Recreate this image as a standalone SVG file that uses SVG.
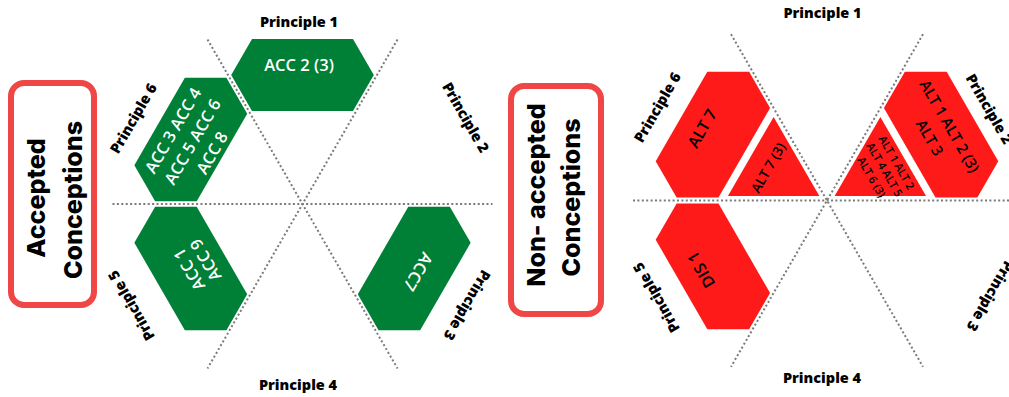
<svg xmlns="http://www.w3.org/2000/svg" width="1009" height="397" viewBox="0 0 1009 397">
<style>
.green{fill:#008037}
.red{fill:#ff1a1a}
.box{fill:#fff;stroke:#ef4646;stroke-width:6}
.title{font-family:Inter,"Liberation Sans",sans-serif;font-weight:800;font-size:25px;fill:#000;text-anchor:middle}
.pr{font-family:"Open Sans","Liberation Sans",sans-serif;font-weight:800;font-size:14.5px;fill:#000;text-anchor:middle}
.acc{font-family:"Open Sans","Liberation Sans",sans-serif;font-weight:600;font-size:16.5px;fill:#fff;text-anchor:middle}
.alt{font-family:"Open Sans","Liberation Sans",sans-serif;font-weight:600;font-size:16px;fill:#000;text-anchor:middle}
.guide{fill:none;stroke:#7a7a7a;stroke-width:2;stroke-dasharray:2 2.4}
</style>
<defs>
<polygon id="hexL" points="-50.5,-165 50.5,-165 71.3,-129 50.5,-93 -50.5,-93 -71.3,-129"/>
<polygon id="hexR" points="-51.6,-168 51.6,-168 72.5,-131.75 51.6,-95.5 -51.6,-95.5 -72.5,-131.75"/>
<polygon id="triR" points="-45.7,-88 45.7,-88 0,-8.8"/>
</defs>

<g id="accepted-label">
<rect class="box" x="11" y="83" width="83" height="222" rx="13"/>
<text class="title" transform="translate(45,198) rotate(-90)">Accepted</text>
<text class="title" transform="translate(82,200) rotate(-90)">Conceptions</text>
</g>

<g id="nonaccepted-label">
<rect class="box" x="511" y="86" width="90" height="228" rx="13"/>
<text class="title" transform="translate(545,195) rotate(-90)">Non- accepted</text>
<text class="title" transform="translate(580,197.5) rotate(-90)">Conceptions</text>
</g>

<g transform="translate(302.5,204)">
<g id="acc2">
<use href="#hexL" class="green"/>
<text class="acc" x="-3.5" y="-133">ACC 2 (3)</text>
</g>
<g id="acc3" transform="rotate(-60)">
<use href="#hexL" class="green"/>
<text class="acc" x="-1" y="-143">ACC 3 ACC 4</text>
<text class="acc" x="-1" y="-120.5">ACC 5 ACC 6</text>
<text class="acc" x="-1" y="-98">ACC 8</text>
</g>
<g id="acc1" transform="rotate(-120)">
<use href="#hexL" class="green"/>
<text class="acc" x="0" y="-125">ACC 1</text>
<text class="acc" x="0" y="-106">ACC 9</text>
</g>
<g id="acc7" transform="rotate(120)">
<use href="#hexL" class="green"/>
<text class="acc" x="1" y="-128">ACC7</text>
</g>
</g>

<g transform="translate(827,200.5)">
<g id="alt7" transform="rotate(-60)">
<use href="#hexR" class="red"/>
<text class="alt" x="0" y="-138.5">ALT 7</text>
</g>
<g id="alt7-3" transform="rotate(-60)">
<use href="#triR" class="red"/>
<text class="alt" x="-1" y="-62.5" style="font-size:13.5px">ALT 7 (3)</text>
</g>
<g id="alt123" transform="rotate(60)">
<use href="#hexR" class="red"/>
<text class="alt" x="-3" y="-138" style="font-size:15px">ALT 1 ALT 2 (3)</text>
<text class="alt" x="-3" y="-115" style="font-size:15px">ALT 3</text>
</g>
<g id="alt12456" transform="rotate(60)">
<use href="#triR" class="red"/>
<text class="alt" x="2" y="-75.3" style="font-size:11px">ALT 1 ALT 2</text>
<text class="alt" x="2" y="-61.3" style="font-size:11px">ALT 4 ALT 5</text>
<text class="alt" x="2" y="-46.3" style="font-size:11px">ALT 6 (3)</text>
</g>
<g id="dis1" transform="rotate(-120)">
<use href="#hexR" class="red"/>
<text class="alt" x="3" y="-138">DIS 1</text>
</g>
</g>

<g id="guides">
<line class="guide" x1="112.5" y1="204" x2="492.5" y2="204"/>
<line class="guide" x1="207.5" y1="39.5" x2="397.5" y2="368.5"/>
<line class="guide" x1="397.5" y1="39.5" x2="207.5" y2="368.5"/>
<line class="guide" x1="633" y1="200.5" x2="1021" y2="200.5"/>
<line class="guide" x1="731" y1="34.2" x2="923" y2="366.8"/>
<line class="guide" x1="923" y1="34.2" x2="731" y2="366.8"/>
</g>

<g id="principles-left">
<text class="pr" x="299" y="27">Principle 1</text>
<text class="pr" x="298" y="390">Principle 4</text>
<text class="pr" transform="translate(133.5,118.5) rotate(-60)" y="5">Principle 6</text>
<text class="pr" transform="translate(465.5,117.5) rotate(60)" y="5">Principle 2</text>
<text class="pr" transform="translate(467,305) rotate(120)" y="5">Principle 3</text>
<text class="pr" transform="translate(131.5,305.5) rotate(-120)" y="5">Principle 5</text>
</g>
<g id="principles-right">
<text class="pr" x="822.5" y="18">Principle 1</text>
<text class="pr" x="822" y="382.5">Principle 4</text>
<text class="pr" transform="translate(657.5,107.5) rotate(-60)" y="5">Principle 6</text>
<text class="pr" transform="translate(989,109) rotate(60)" y="5">Principle 2</text>
<text class="pr" transform="translate(990,296) rotate(120)" y="5">Principle 3</text>
<text class="pr" transform="translate(656.5,297.5) rotate(-120)" y="5">Principle 5</text>
</g>
</svg>
